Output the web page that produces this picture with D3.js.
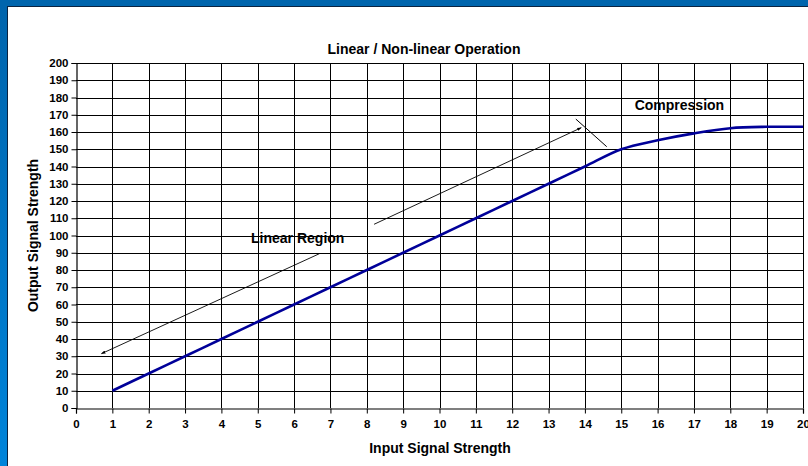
<!DOCTYPE html>
<html><head><meta charset="utf-8">
<script src="https://cdn.jsdelivr.net/npm/d3@7"></script>
<style>body{margin:0;padding:0;background:#fff;overflow:hidden}svg{display:block}text{font-family:Arial,"Liberation Sans",sans-serif;font-weight:bold;fill:#000}</style>
</head><body>
<svg id="c" width="808" height="466"></svg>
<script>
const inputValues = [1,2,3,4,5,6,7,8,9,10,11,12,13,14,15,16,17,18,19,20];
const outputValues = [10,20,30,40,50,60,70,80,90,100,110,120,130,140,150,155.2,159.2,162.2,163,163];
const xTicks = d3.range(0,21,1);
const yTicks = d3.range(0,201,10);
const title = "Linear / Non-linear Operation";
const xTitle = "Input Signal Strength";
const yTitle = "Output Signal Strength";
const annotations = [{text:"Linear Region", x:6.1, y:98}, {text:"Compression", x:16.6, y:175}];

const svg = d3.select("#c");
const defs = svg.append("defs");
const g1 = defs.append("linearGradient").attr("id","lb").attr("x1",0).attr("y1",0).attr("x2",0).attr("y2",1);
g1.append("stop").attr("offset","0").attr("stop-color","#0064ac");
g1.append("stop").attr("offset","1").attr("stop-color","#0084da");
svg.append("rect").attr("x",0).attr("y",0).attr("width",808).attr("height",466).attr("fill","url(#lb)");
svg.append("rect").attr("x",0).attr("y",0).attr("width",808).attr("height",7).attr("fill","#0065ad");
svg.append("rect").attr("x",7).attr("y",6).attr("width",801).attr("height",460).attr("fill","#0b2340");
svg.append("rect").attr("x",8).attr("y",7).attr("width",800).attr("height",459).attr("fill","#ffffff");

const x = d3.scaleLinear().domain([0,20]).range([76,803]);
const y = d3.scaleLinear().domain([0,200]).range([408,63]);

const grid = svg.append("g");
grid.selectAll("line.v").data(xTicks.slice(1)).join("line")
  .attr("x1",d=>Math.round(x(d))+0.5).attr("x2",d=>Math.round(x(d))+0.5)
  .attr("y1",y(0)).attr("y2",y(200)).attr("stroke","#000").attr("stroke-width",1);
grid.selectAll("line.h").data(yTicks.slice(1)).join("line")
  .attr("y1",d=>Math.round(y(d))+0.5).attr("y2",d=>Math.round(y(d))+0.5)
  .attr("x1",x(0)).attr("x2",x(20)).attr("stroke","#000").attr("stroke-width",1);

const xa = svg.append("g").attr("transform",`translate(0,${Math.round(y(0))+0.5})`)
  .call(d3.axisBottom(x).tickValues(xTicks).tickSize(5).tickPadding(6).tickFormat(d3.format("d")));
const ya = svg.append("g").attr("transform",`translate(${Math.round(x(0))+0.5},0)`)
  .call(d3.axisLeft(y).tickValues(yTicks).tickSize(5).tickPadding(3).tickFormat(d3.format("d")));
[xa,ya].forEach(a=>{
  a.selectAll("path").attr("stroke","#000").attr("stroke-width",1.2);
  a.selectAll("line").attr("stroke","#000");
  a.selectAll("text").style("font-size","11.5px").style("font-weight","bold").attr("fill","#000").style("font-family","Arial, 'Liberation Sans', sans-serif");
});

const pts = inputValues.map((v,i)=>[v,outputValues[i]]);
const line = d3.line().x(d=>x(d[0])).y(d=>y(d[1])).curve(d3.curveCatmullRom.alpha(0.5));
svg.append("path").datum(pts).attr("d",line).attr("fill","none").attr("stroke","#000099").attr("stroke-width",2.6);

defs.append("marker").attr("id","ah").attr("viewBox","0 0 10 10").attr("refX",9).attr("refY",5)
  .attr("markerWidth",5).attr("markerHeight",5).attr("orient","auto")
  .append("path").attr("d","M0,1.5 L10,5 L0,8.5 Z").attr("fill","#000");
const arrows = [[6.7,89.5,0.7,31.5],[8.2,106.5,13.9,162.5]];
svg.selectAll("line.arr").data(arrows).join("line")
  .attr("x1",d=>x(d[0])).attr("y1",d=>y(d[1])).attr("x2",d=>x(d[2])).attr("y2",d=>y(d[3]))
  .attr("stroke","#000").attr("stroke-width",0.9).attr("marker-end","url(#ah)");
const crossLine = [[13.75,167.5],[14.6,151.5]];
svg.append("line").attr("x1",x(crossLine[0][0])).attr("y1",y(crossLine[0][1]))
  .attr("x2",x(crossLine[1][0])).attr("y2",y(crossLine[1][1])).attr("stroke","#000").attr("stroke-width",1);

svg.selectAll("text.ann").data(annotations).join("text")
  .attr("x",d=>x(d.x)).attr("y",d=>y(d.y)).attr("text-anchor","middle").attr("dominant-baseline","middle")
  .style("font-size","14px").text(d=>d.text);

svg.append("text").attr("x",424).attr("y",54).attr("text-anchor","middle").style("font-size","14px").text(title);
svg.append("text").attr("x",440).attr("y",453).attr("text-anchor","middle").style("font-size","14px").text(xTitle);
svg.append("text").attr("transform",`translate(38,${(y(0)+y(200))/2}) rotate(-90)`).attr("text-anchor","middle").style("font-size","14px").text(yTitle);
</script>
</body></html>
